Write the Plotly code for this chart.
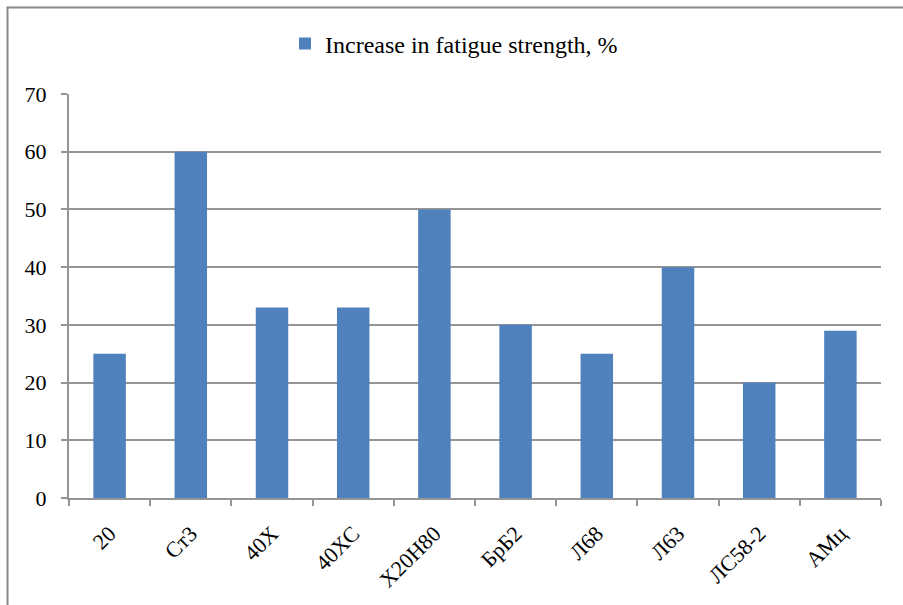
import plotly.graph_objects as go

categories = ["20", "Ст3", "40Х", "40ХС", "Х20Н80", "БрБ2", "Л68", "Л63", "ЛС58-2", "АМц"]
values = [25, 60, 33, 33, 50, 30, 25, 40, 20, 29]
series_name = "Increase in fatigue strength, %"
y_ticks = [0, 10, 20, 30, 40, 50, 60, 70]

W, H = 903, 605
L, R, T, B = 69, 22, 94, 107
pw, ph = W - L - R, H - T - B

fig = go.Figure()
fig.add_trace(go.Bar(x=categories, y=values, name=series_name,
                     marker=dict(color="#4F81BD", line=dict(width=0)),
                     showlegend=True))

font = dict(family="Liberation Serif, Times New Roman, serif", size=22, color="black")
lfont = dict(family="Liberation Serif, Times New Roman, serif", size=24, color="black")
gray = "#959595"
fig.update_layout(
    width=W, height=H,
    margin=dict(l=L, r=R, t=T, b=B, autoexpand=False),
    paper_bgcolor="white", plot_bgcolor="white",
    font=font,
    bargap=0.6,
    showlegend=True,
    legend=dict(orientation="h", x=(285 - L) / pw, xanchor="left", y=1.0 + (T - 44) / ph,
                yanchor="middle", font=lfont, itemwidth=30),
    xaxis=dict(showline=True, linecolor=gray, linewidth=2, ticks="outside",
               tickson="boundaries", ticklen=6, tickcolor=gray, tickwidth=2, tickangle=-45,
               tickfont=font, showgrid=False, automargin=False, ticklabelstandoff=12),
    yaxis=dict(range=[0, 70], tickvals=y_ticks, showline=True, linecolor=gray, linewidth=2,
               ticks="outside", ticklen=6, tickcolor=gray, tickwidth=2, showgrid=True,
               gridcolor=gray, gridwidth=2, tickfont=font, zeroline=False,
               automargin=False, ticklabelstandoff=10),
)

x0 = (7.5 - L) / pw
y1 = (T + ph - 7.5) / ph
fig.add_shape(type="rect", xref="paper", yref="paper", x0=x0, x1=1.2, y0=-0.5, y1=y1,
              line=dict(color="#888888", width=2), fillcolor="rgba(0,0,0,0)", layer="below")

fig.write_html("out.html", config={"displayModeBar": False},
               post_script="document.body.style.margin='0';document.body.style.overflow='hidden';")
